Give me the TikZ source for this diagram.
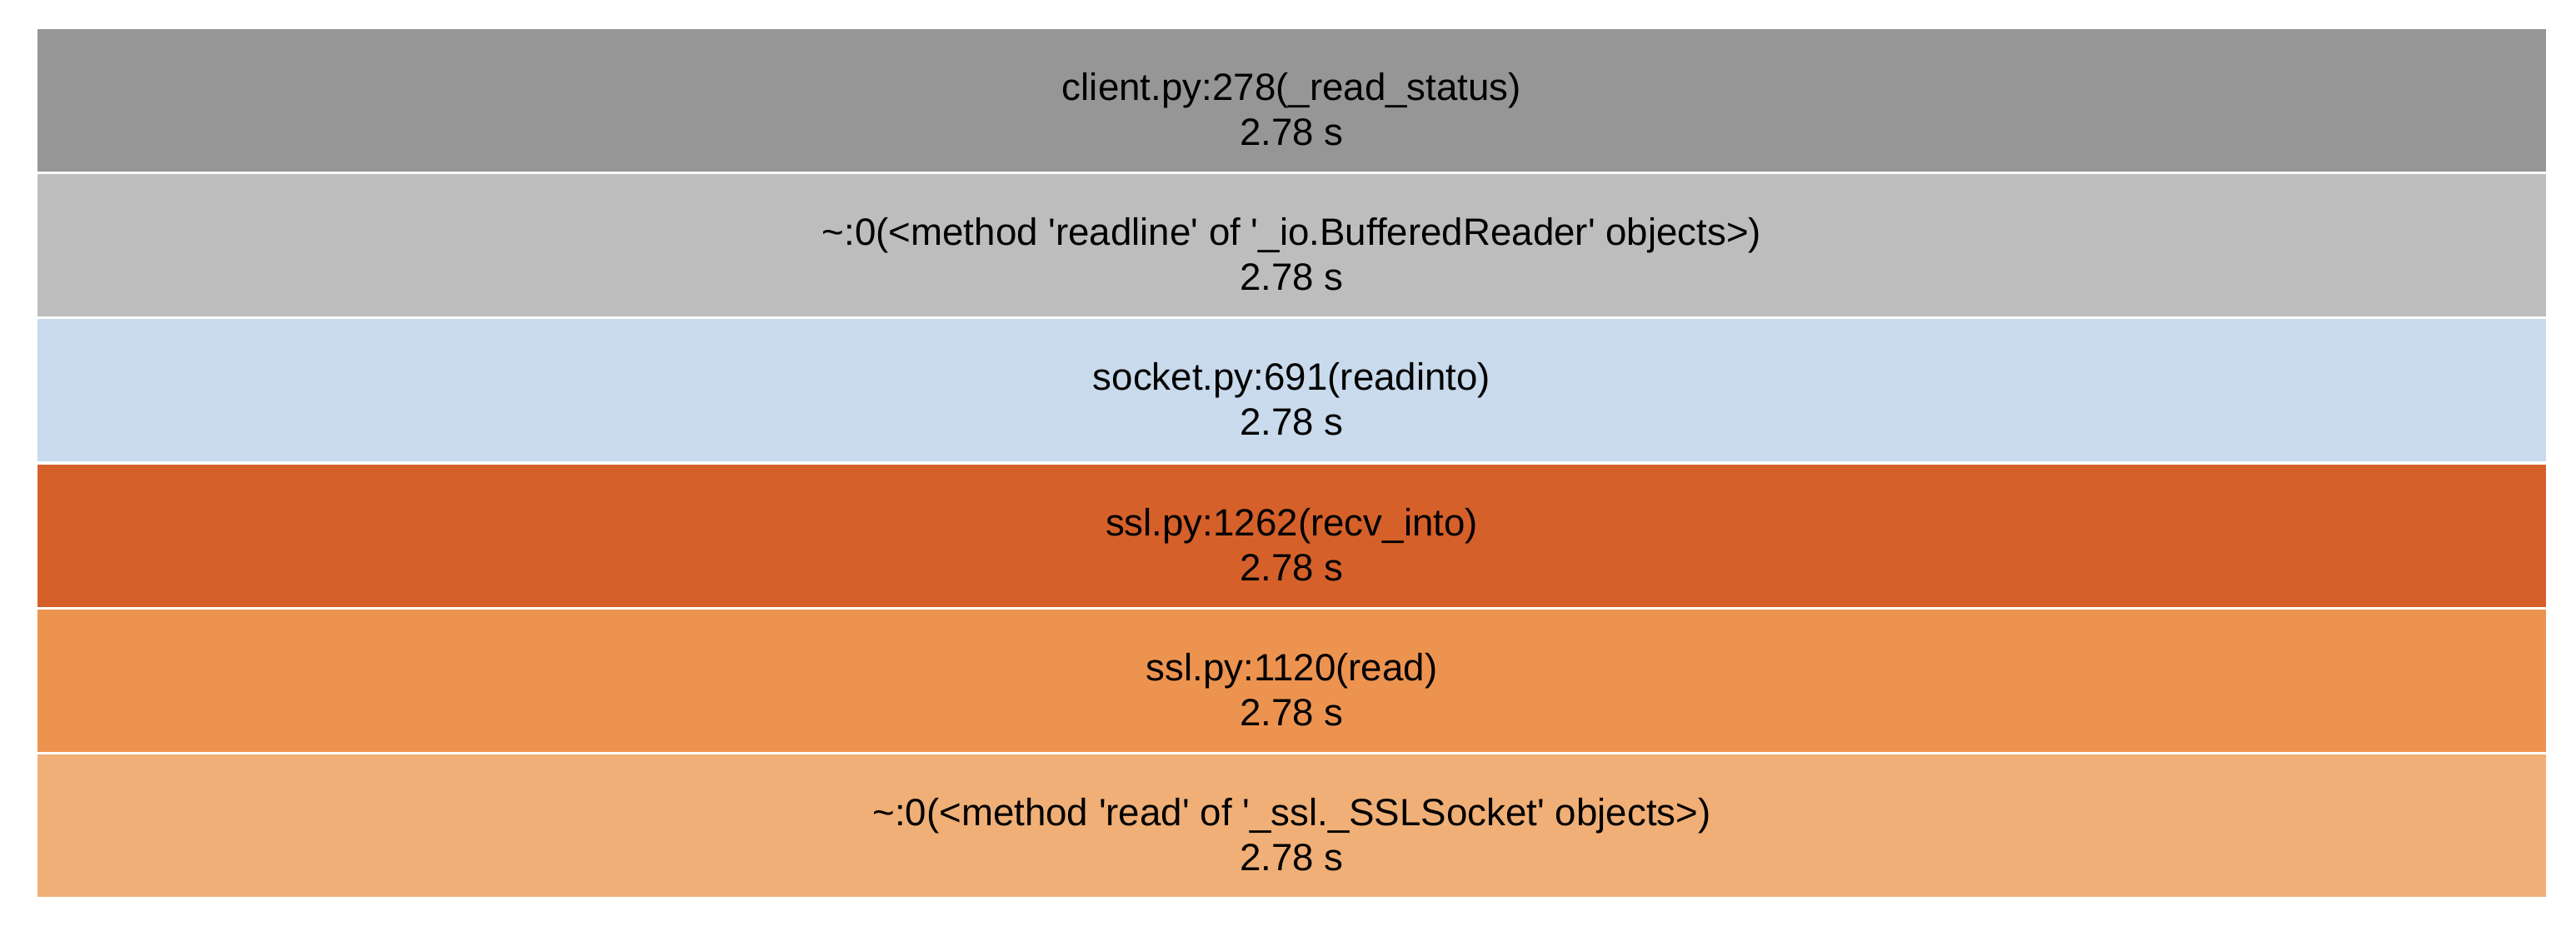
\documentclass[tikz,border=0pt]{standalone}
\usepackage{fontspec}
\newfontfamily\barfont{Liberation Sans}
\usetikzlibrary{positioning}

\definecolor{statusgray}{HTML}{969696}
\definecolor{readlinegray}{HTML}{BDBDBD}
\definecolor{readintoblue}{RGB}{200,218,236}
\definecolor{recvorange}{RGB}{213,96,42}
\definecolor{readorange}{RGB}{237,147,80}
\definecolor{sockorange}{RGB}{240,175,118}

\begin{document}
\begin{tikzpicture}[
    bar/.style={rectangle, minimum width=30.11cm, minimum height=1.71cm, inner sep=0pt},
    fname/.style={anchor=base, inner sep=0pt, text=black, font=\barfont\fontsize{13}{15}\selectfont},
]
    \useasboundingbox (0,0) rectangle (30.92,11.18);

    % call stack, top frame first
    \node[bar, fill=statusgray] (read_status) at (15.505, 9.975) {};
    \node[fname] (read_status_name) at (read_status.center) {client.py:278(\_read\_status)};
    \node[fname] (read_status_time) at ([yshift=-0.54cm]read_status.center) {2.78 s};

    \node[bar, fill=readlinegray] (readline) at (15.505, 8.233) {};
    \node[fname] (readline_name) at (readline.center) {\textasciitilde:0(<method 'readline' of '\_io.BufferedReader' objects>)};
    \node[fname] (readline_time) at ([yshift=-0.54cm]readline.center) {2.78 s};

    \node[bar, fill=readintoblue] (readinto) at (15.505, 6.491) {};
    \node[fname] (readinto_name) at (readinto.center) {socket.py:691(readinto)};
    \node[fname] (readinto_time) at ([yshift=-0.54cm]readinto.center) {2.78 s};

    \node[bar, fill=recvorange] (recv_into) at (15.505, 4.749) {};
    \node[fname] (recv_into_name) at (recv_into.center) {ssl.py:1262(recv\_into)};
    \node[fname] (recv_into_time) at ([yshift=-0.54cm]recv_into.center) {2.78 s};

    \node[bar, fill=readorange] (ssl_read) at (15.505, 3.007) {};
    \node[fname] (ssl_read_name) at (ssl_read.center) {ssl.py:1120(read)};
    \node[fname] (ssl_read_time) at ([yshift=-0.54cm]ssl_read.center) {2.78 s};

    \node[bar, fill=sockorange] (sock_read) at (15.505, 1.265) {};
    \node[fname] (sock_read_name) at (sock_read.center) {\textasciitilde:0(<method 'read' of '\_ssl.\_SSLSocket' objects>)};
    \node[fname] (sock_read_time) at ([yshift=-0.54cm]sock_read.center) {2.78 s};

\end{tikzpicture}
\end{document}
